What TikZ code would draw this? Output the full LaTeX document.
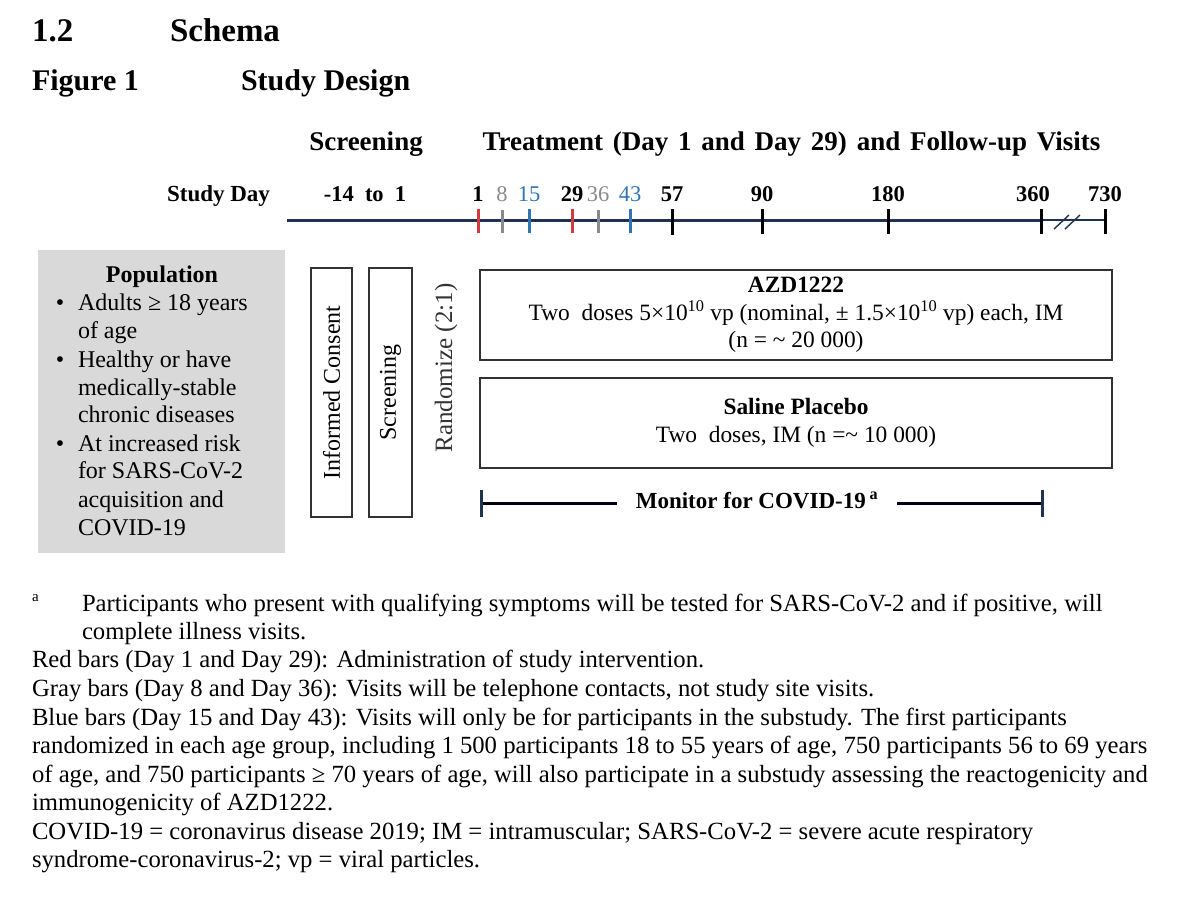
\documentclass[tikz,border=0pt]{standalone}
\usepackage{fontspec}
\setmainfont{Liberation Serif}
\definecolor{axisblue}{HTML}{1F3350}
\definecolor{tickred}{HTML}{D23A40}
\definecolor{tickgray}{HTML}{8A8A8A}
\definecolor{tickblue}{HTML}{2E75B6}
\definecolor{popgray}{HTML}{D9D9D9}
\definecolor{boxline}{HTML}{333333}
\newcommand\wideWordSpacing{\spaceskip 9.8pt\relax}
\begin{document}
\begin{tikzpicture}[x=1pt,y=-1pt,
  every node/.style={inner sep=0pt, outer sep=0pt},
  hd/.style={anchor=base west, font=\fontsize{33}{38}\selectfont\bfseries},
  fighd/.style={anchor=base west, font=\fontsize{30}{34}\selectfont\bfseries},
  lab/.style={anchor=base, font=\fontsize{27}{31}\selectfont\bfseries},
  daynum/.style={anchor=base, font=\fontsize{22.5}{26}\selectfont\bfseries},
  daynumlt/.style={anchor=base, font=\fontsize{22.5}{26}\selectfont},
  body/.style={anchor=base west, font=\fontsize{24.7}{28.4}\selectfont},
  poptxt/.style={anchor=base west, font=\fontsize{24}{28}\selectfont},
  armbox/.style={draw=boxline, line width=1.5pt, align=center, font=\fontsize{23.4}{27.5}\selectfont},
  vbox/.style={draw=boxline, line width=1.5pt, rotate=90, font=\fontsize{24}{28}\selectfont},
  axisline/.style={draw=axisblue, line width=3pt},
  thinaxis/.style={draw=axisblue, line width=1.6pt},
  tickR/.style={draw=tickred, line width=3pt},
  tickG/.style={draw=tickgray, line width=3pt},
  tickB/.style={draw=tickblue, line width=3pt},
  tickK/.style={draw=black, line width=3pt},
  monline/.style={draw=black!90!blue, line width=3pt},
  montick/.style={draw=axisblue, line width=3pt}]
\useasboundingbox (0,0) rectangle (1200,911);
\fill[white] (0,0) rectangle (1200,911);

% headings
\node[hd] (sec) at (32,41) {1.2};
\node[hd] (schema) at (170,41) {Schema};
\node[fighd] (fig) at (32,90) {Figure 1};
\node[fighd] (design) at (241,90) {Study Design};

% column labels
\node[lab] (scrlab) at (366,150) {Screening};
\node[lab] (trtlab) at (791.5,150) {\wideWordSpacing Treatment (Day 1 and Day 29) and Follow-up Visits};

% study day row
\node[anchor=base east, font=\fontsize{23}{26}\selectfont\bfseries] (sday) at (270,201) {Study Day};
\node[daynum] (scrdays) at (365,201) {-14 \ to \ 1};
\node[daynum] (n1) at (478,201) {1};
\node[daynumlt, text=tickgray] (n8) at (502,201) {8};
\node[daynumlt, text=tickblue] (n15) at (529,201) {15};
\node[daynum] (n29) at (572,201) {29};
\node[daynumlt, text=tickgray] (n36) at (598,201) {36};
\node[daynumlt, text=tickblue] (n43) at (630,201) {43};
\node[daynum] (n57) at (672,201) {57};
\node[daynum] (n90) at (762,201) {90};
\node[daynum] (n180) at (888,201) {180};
\node[daynum] (n360) at (1033,201) {360};
\node[daynum] (n730) at (1105,201) {730};

% axis
\coordinate (axL) at (287,220);
\coordinate (ax360) at (1041,220);
\coordinate (ax730) at (1105,220);
\draw[axisline] (axL) -- (ax360);
\draw[thinaxis] (ax360) -- (ax730);
\draw[draw=axisblue, line width=1.4pt] (1054,229) -- (1069,215);
\draw[draw=axisblue, line width=1.4pt] (1065,229) -- (1080,215);
\draw[tickR] (478,209) -- (478,233);
\draw[tickG] (502,210) -- (502,233);
\draw[tickB] (529,209) -- (529,233);
\draw[tickR] (572,209) -- (572,233);
\draw[tickG] (598,210) -- (598,233);
\draw[tickB] (630,209) -- (630,233);
\draw[tickK] (672,209) -- (672,235);
\draw[tickK] (762,209) -- (762,234);
\draw[tickK] (888,209) -- (888,234);
\draw[tickK] (1041,209) -- (1041,234);
\draw[tickK] (1105,209) -- (1105,234);

% population box
\node[fill=popgray, minimum width=247pt, minimum height=303pt] (pop) at (161.5,401.5) {};
\node[anchor=base, font=\fontsize{24}{28}\selectfont\bfseries] (poptitle) at (162,282) {Population};
\node[poptxt, anchor=base] (b1) at (60,310) {\textbullet};
\node[poptxt] (p1) at (78,310) {Adults ≥ 18 years};
\node[poptxt] (p2) at (78,338) {of age};
\node[poptxt, anchor=base] (b2) at (60,367) {\textbullet};
\node[poptxt] (p3) at (78,367) {Healthy or have};
\node[poptxt] (p4) at (78,395) {medically-stable};
\node[poptxt] (p5) at (78,422) {chronic diseases};
\node[poptxt, anchor=base] (b3) at (60,451) {\textbullet};
\node[poptxt] (p6) at (78,451) {At increased risk};
\node[poptxt] (p7) at (78,478) {for SARS-CoV-2};
\node[poptxt] (p8) at (78,507) {acquisition and};
\node[poptxt] (p9) at (78,535) {COVID-19};

% vertical boxes
\node[vbox, minimum width=249pt, minimum height=41pt] (ic) at (331.5,392.5) {Informed Consent};
\node[vbox, minimum width=249pt, minimum height=43pt] (scr) at (390.5,392.5) {Screening};
\node[rotate=90, font=\fontsize{25}{28}\selectfont, text=black!80] (rand) at (446,368) {Randomize (2:1)};

% arm boxes
\node[armbox, minimum width=632pt, minimum height=90pt] (azd) at (796,315)
  {\textbf{AZD1222}\\Two \ doses 5×10\textsuperscript{10} vp (nominal, ± 1.5×10\textsuperscript{10} vp) each, IM\\(n = \textasciitilde{} 20 000)};
\node[armbox, minimum width=632pt, minimum height=90pt] (pla) at (796,423)
  {\textbf{Saline Placebo}\\Two \ doses, IM (n =\textasciitilde{} 10 000)};

% monitor line
\coordinate (ml) at (481,503);
\coordinate (mr) at (1042,503);
\node[inner xsep=19pt, font=\fontsize{23}{26}\selectfont\bfseries] (mon) at (757,500) {Monitor for COVID-19\,\textsuperscript{a}};
\draw[monline] (ml) -- (ml -| mon.west);
\draw[monline] (mr -| mon.east) -- (mr);
\draw[montick] ([yshift=13.5pt]ml) -- ([yshift=-13.5pt]ml);
\draw[montick] ([yshift=13.5pt]mr) -- ([yshift=-13.5pt]mr);

% footnotes
\node[anchor=base west, font=\fontsize{15}{17}\selectfont] (fa) at (32,601) {a};
\node[body] (f1) at (82,611) {Participants who present with qualifying symptoms will be tested for SARS-CoV-2 and if positive, will};
\node[body] (f2) at (82,639) {complete illness visits.};
\node[body] (f3) at (32,667) {Red bars (Day 1 and Day 29): Administration of study intervention.};
\node[body] (f4) at (32,696) {Gray bars (Day 8 and Day 36): Visits will be telephone contacts, not study site visits.};
\node[body] (f5) at (32,725) {Blue bars (Day 15 and Day 43): Visits will only be for participants in the substudy. The first participants};
\node[body] (f6) at (32,753) {randomized in each age group, including 1 500 participants 18 to 55 years of age, 750 participants 56 to 69 years};
\node[body] (f7) at (32,782) {of age, and 750 participants ≥ 70 years of age, will also participate in a substudy assessing the reactogenicity and};
\node[body] (f8) at (32,810) {immunogenicity of AZD1222.};
\node[body] (f9) at (32,839) {COVID-19 = coronavirus disease 2019; IM = intramuscular; SARS-CoV-2 = severe acute respiratory};
\node[body] (f10) at (32,867) {syndrome-coronavirus-2; vp = viral particles.};
\end{tikzpicture}
\end{document}
